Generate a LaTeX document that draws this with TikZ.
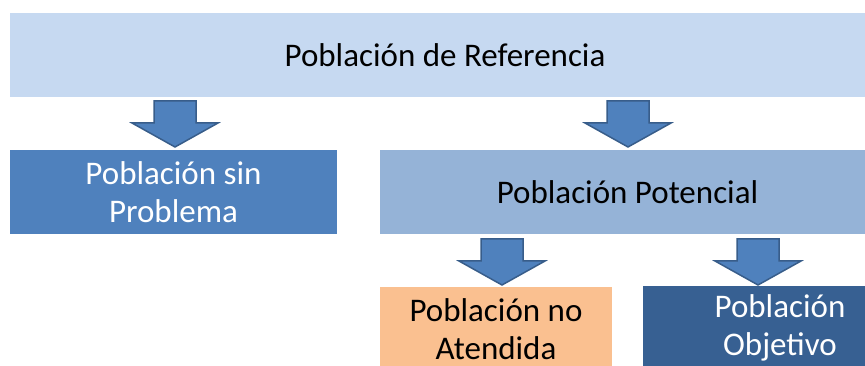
\documentclass[tikz,border=0pt]{standalone}
\usepackage{fontspec}
\setmainfont{Carlito}
\usetikzlibrary{positioning}

\definecolor{referencia}{HTML}{C6D9F1}
\definecolor{sinproblema}{HTML}{4F81BD}
\definecolor{potencial}{HTML}{95B3D7}
\definecolor{noatendida}{HTML}{FAC090}
\definecolor{objetivo}{HTML}{376092}
\definecolor{flechaborde}{HTML}{385D8A}

\tikzset{pics/flecha/.style={code={
    \draw[fill=sinproblema, draw=flechaborde, line width=1.5pt, line join=miter]
        (-21,0) -- (21,0) -- (21,22) -- (43,22) -- (0,46)
        -- (-43,22) -- (-21,22) -- cycle;}}}

\begin{document}
\begin{tikzpicture}[x=1pt, y=-1pt]
    \tikzstyle{box}=[rectangle,
                    minimum height=84pt,
                    inner sep=0pt,
                    align=center,
                    font=\fontsize{33}{38}\selectfont]

    \useasboundingbox (0,0) rectangle (865,366);

    \node[box, fill=referencia, minimum width=870pt] (referencia) at (445,55) {Población de Referencia};
    \node[box, fill=sinproblema, text=white, minimum width=327pt] (sinproblema) at (173.5,192) {Población sin\\Problema};
    \node[box, fill=potencial, minimum width=495pt] (potencial) at (627.5,192) {Población Potencial};
    \node[box, fill=noatendida, minimum width=232pt] (noatendida) at (496,329) {Población no\\Atendida};
    \node[box, fill=objetivo, text=white, minimum width=274pt] (objetivo) at (780,328) {Población\\Objetivo};

    \pic (f1) at (175,101) {flecha};
    \pic (f2) at (628,101) {flecha};
    \pic (f3) at (502,239) {flecha};
    \pic (f4) at (758,239) {flecha};
\end{tikzpicture}
\end{document}
